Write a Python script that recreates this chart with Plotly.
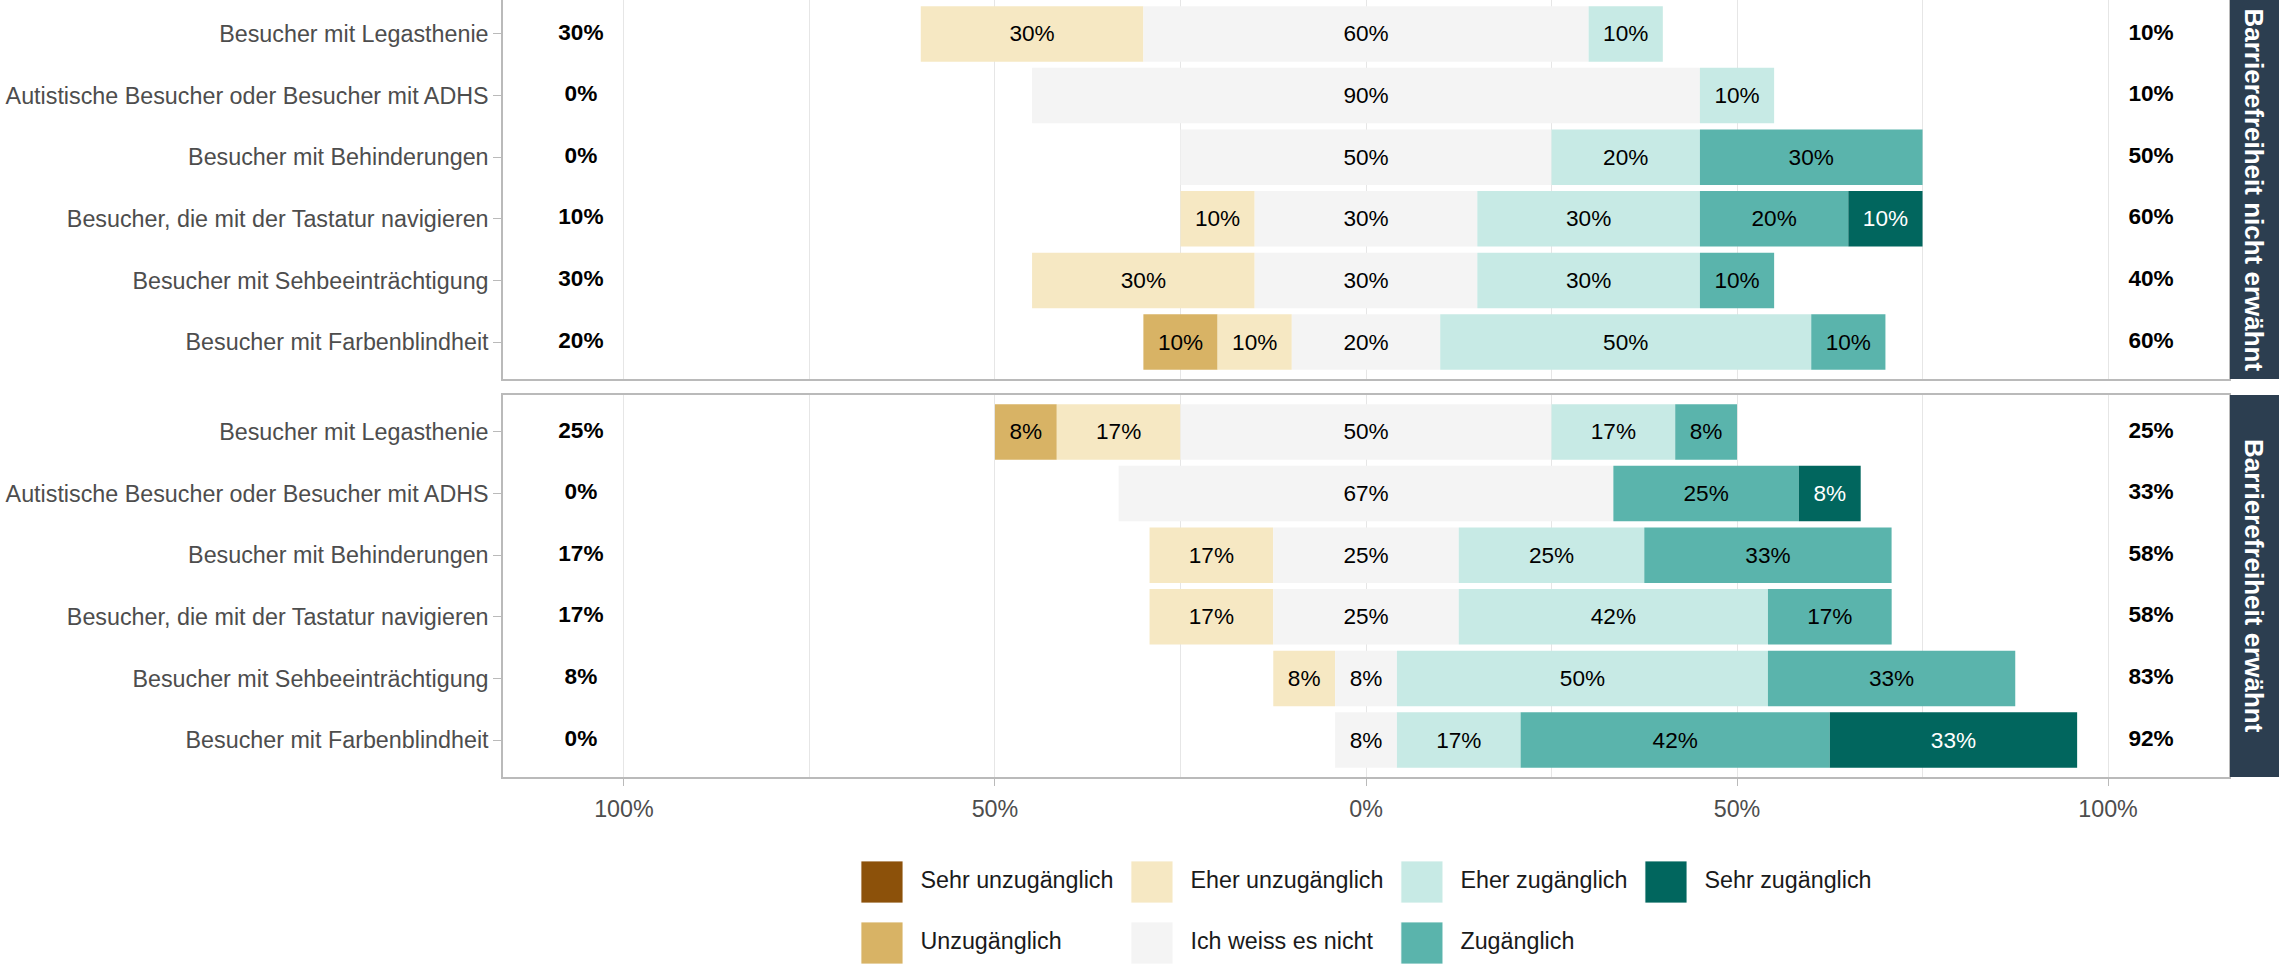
import plotly.graph_objects as go

# ---------------- data ----------------
rows = [
    "Besucher mit Legasthenie",
    "Autistische Besucher oder Besucher mit ADHS",
    "Besucher mit Behinderungen",
    "Besucher, die mit der Tastatur navigieren",
    "Besucher mit Sehbeeinträchtigung",
    "Besucher mit Farbenblindheit",
]
levels = ["Sehr unzugänglich", "Unzugänglich", "Eher unzugänglich", "Ich weiss es nicht",
          "Eher zugänglich", "Zugänglich", "Sehr zugänglich"]
panel_titles = ["Barrierefreiheit nicht erwähnt", "Barrierefreiheit erwähnt"]
x_tick_vals = [-100, -50, 0, 50, 100]
x_tick_text = ["100%", "50%", "0%", "50%", "100%"]

# Panel 1: Barrierefreiheit nicht erwähnt (percent)
p1_sehr_unzug = [0, 0, 0, 0, 0, 0]
p1_unzug = [0, 0, 0, 0, 0, 10]
p1_eher_unzug = [30, 0, 0, 10, 30, 10]
p1_neutral = [60, 90, 50, 30, 30, 20]
p1_eher_zug = [10, 10, 20, 30, 30, 50]
p1_zug = [0, 0, 30, 20, 10, 10]
p1_sehr_zug = [0, 0, 0, 10, 0, 0]

# Panel 2: Barrierefreiheit erwähnt (percent)
p2_sehr_unzug = [0, 0, 0, 0, 0, 0]
p2_unzug = [8.33, 0, 0, 0, 0, 0]
p2_eher_unzug = [16.67, 0, 16.67, 16.67, 8.33, 0]
p2_neutral = [50, 66.67, 25, 25, 8.33, 8.33]
p2_eher_zug = [16.67, 0, 25, 41.67, 50, 16.67]
p2_zug = [8.33, 25, 33.33, 16.67, 33.33, 41.67]
p2_sehr_zug = [0, 8.33, 0, 0, 0, 33.33]

# ---------------- styles ----------------
colors = ["#8c510a", "#d8b365", "#f6e8c3", "#f4f4f4", "#c7eae5", "#5ab4ac", "#01665e"]
label_colors = ["white", "black", "black", "black", "black", "black", "white"]
FONT = "Liberation Sans, Arial, Helvetica, sans-serif"
W, H = 2279, 965
ML, MR = 503, 50
PLOT_W = W - ML - MR
XR = 116.3
GRID = "#e6e6e6"
BORDER = "#bababa"
STRIP = "#2c3e50"

panels = [
    [p1_sehr_unzug, p1_unzug, p1_eher_unzug, p1_neutral, p1_eher_zug, p1_zug, p1_sehr_zug],
    [p2_sehr_unzug, p2_unzug, p2_eher_unzug, p2_neutral, p2_eher_zug, p2_zug, p2_sehr_zug],
]

# panel positions (pixels from top)
panel_px = [(0, 379), (395, 777)]
panel_ranges = [[5.6, -0.6 + 3 / 61.6], [5.6, -0.6]]


def dom(top, bot):
    return [1 - bot / H, 1 - top / H]


fig = go.Figure()

for p, vals in enumerate(panels):
    xa = "x" if p == 0 else "x2"
    ya = "y" if p == 0 else "y2"
    su, u, eu, n, ez, z, sz = vals
    bases = {}
    bases[3] = [-v / 2 for v in n]
    bases[2] = [-nn / 2 - a for nn, a in zip(n, eu)]
    bases[1] = [b - a for b, a in zip(bases[2], u)]
    bases[0] = [b - a for b, a in zip(bases[1], su)]
    bases[4] = [nn / 2 for nn in n]
    bases[5] = [b + a for b, a in zip(bases[4], ez)]
    bases[6] = [b + a for b, a in zip(bases[5], z)]
    for k in range(7):
        v = vals[k]
        fig.add_trace(go.Bar(
            y=rows, x=v, base=bases[k], orientation="h",
            marker=dict(color=colors[k], line=dict(width=0)),
            width=0.9,
            text=[f"{round(a)}%" if a > 0 else "" for a in v],
            textposition="inside", insidetextanchor="middle", textangle=0,
            constraintext="none",
            textfont=dict(family=FONT, size=22.6, color=label_colors[k]),
            xaxis=xa, yaxis=ya, showlegend=False, hoverinfo="skip",
            name=levels[k],
        ))
    left_tot = [a + b + c for a, b, c in zip(su, u, eu)]
    right_tot = [a + b + c for a, b, c in zip(ez, z, sz)]
    fig.add_trace(go.Scatter(
        y=rows, x=[-105.8] * len(rows), mode="text",
        text=[f"<b>{round(t)}%</b>" for t in left_tot],
        textfont=dict(family=FONT, size=22.6, color="black"),
        xaxis=xa, yaxis=ya, showlegend=False, hoverinfo="skip"))
    fig.add_trace(go.Scatter(
        y=rows, x=[105.8] * len(rows), mode="text",
        text=[f"<b>{round(t)}%</b>" for t in right_tot],
        textfont=dict(family=FONT, size=22.6, color="black"),
        xaxis=xa, yaxis=ya, showlegend=False, hoverinfo="skip"))

# ---------------- legend (drawn in its own axes, pixel units) ----------------
ARIAL = {' ': 278, 'S': 667, 'U': 722, 'E': 667, 'I': 278, 'Z': 611, 'a': 556, 'ä': 556,
         'c': 500, 'e': 556, 'g': 556, 'h': 556, 'i': 222, 'l': 222, 'n': 556, 'r': 333,
         's': 500, 't': 278, 'u': 556, 'w': 722, 'z': 500}
LEG_FS = 23.3
KEY, GAP, SPACE = 43, 17, 17


def tw(s):
    return sum(ARIAL.get(ch, 556) for ch in s) / 1000 * LEG_FS


ncol = 4
cols = [[levels[i] for i in range(len(levels)) if i // 2 == c] for c in range(ncol)]
col_w = [KEY + GAP + max(tw(s) for s in col) + SPACE for col in cols]
total = sum(col_w) - SPACE
start = -total / 2
col_x = []
acc = start
for w in col_w:
    col_x.append(acc)
    acc += w

leg_x, leg_y, leg_c, txt_x = [], [], [], []
for i, lv in enumerate(levels):
    c, r = i // 2, i % 2
    leg_x.append(col_x[c] + KEY / 2)
    leg_y.append(r)
    leg_c.append(colors[i])
    txt_x.append(col_x[c] + KEY + GAP)

fig.add_trace(go.Scatter(
    x=leg_x, y=leg_y, mode="markers",
    marker=dict(symbol="square", size=42, color=leg_c, line=dict(width=0.8, color="white")),
    xaxis="x3", yaxis="y3", showlegend=False, hoverinfo="skip"))
fig.add_trace(go.Scatter(
    x=txt_x, y=leg_y, mode="text", text=levels, textposition="middle right",
    textfont=dict(family=FONT, size=LEG_FS, color="#1a1a1a"),
    xaxis="x3", yaxis="y3", showlegend=False, hoverinfo="skip"))

# ---------------- layout ----------------
common_x = dict(range=[-XR, XR], tickvals=x_tick_vals, showgrid=True, gridcolor=GRID, gridwidth=1,
                minor=dict(tickmode="array", tickvals=[-75, -25, 25, 75], showgrid=True,
                           gridcolor=GRID, gridwidth=1, ticks=""),
                zeroline=False, showline=True, linecolor=BORDER, linewidth=1.5, fixedrange=True)
common_y = dict(categoryorder="array", categoryarray=rows, showgrid=False, zeroline=False,
                ticks="outside", ticklen=8, tickwidth=1.2, tickcolor=BORDER,
                tickfont=dict(family=FONT, size=23.3, color="#4d4d4d"),
                showline=True, linecolor=BORDER, linewidth=1.5, mirror=True, fixedrange=True)

fig.update_layout(
    width=W, height=H,
    margin=dict(l=ML, r=MR, t=0, b=0, pad=0),
    paper_bgcolor="white", plot_bgcolor="white",
    barmode="overlay", bargap=0.1,
    font=dict(family=FONT),
    xaxis=dict(common_x, domain=[0, 1], anchor="y", showticklabels=False, ticks=""),
    yaxis=dict(common_y, domain=dom(*panel_px[0]), anchor="x", range=panel_ranges[0]),
    xaxis2=dict(common_x, domain=[0, 1], anchor="y2", ticktext=x_tick_text, ticks="outside",
                ticklen=7, tickwidth=1.2, tickcolor=BORDER, mirror=True, ticklabelstandoff=3,
                tickfont=dict(family=FONT, size=23.3, color="#4d4d4d")),
    yaxis2=dict(common_y, domain=dom(*panel_px[1]), anchor="x2", range=panel_ranges[1]),
    xaxis3=dict(domain=[0, 1], anchor="y3", range=[-PLOT_W / 2, PLOT_W / 2], visible=False,
                fixedrange=True),
    yaxis3=dict(domain=[0, 125 / H], anchor="x3", range=[1 + 22 / 61, -42 / 61], visible=False,
                fixedrange=True),
    showlegend=False,
)

# facet strips on the right
shapes, annotations = [], []
for p, (top, bot) in enumerate(panel_px):
    d = dom(top, bot)
    shapes.append(dict(type="rect", xref="paper", yref="paper",
                       x0=1 + 1 / PLOT_W, x1=1 + (MR + 2) / PLOT_W, y0=d[0], y1=d[1],
                       fillcolor=STRIP, line=dict(width=0), layer="above"))
    annotations.append(dict(xref="paper", yref="paper", x=1 + 25 / PLOT_W, y=(d[0] + d[1]) / 2,
                            text=f"<b>{panel_titles[p]}</b>", textangle=90, showarrow=False,
                            xanchor="center", yanchor="middle",
                            font=dict(family=FONT, size=26, color="white")))
fig.update_layout(shapes=shapes, annotations=annotations)

fig.write_html("out.html", config={"displayModeBar": False},
               post_script="document.body.style.margin='0';")
